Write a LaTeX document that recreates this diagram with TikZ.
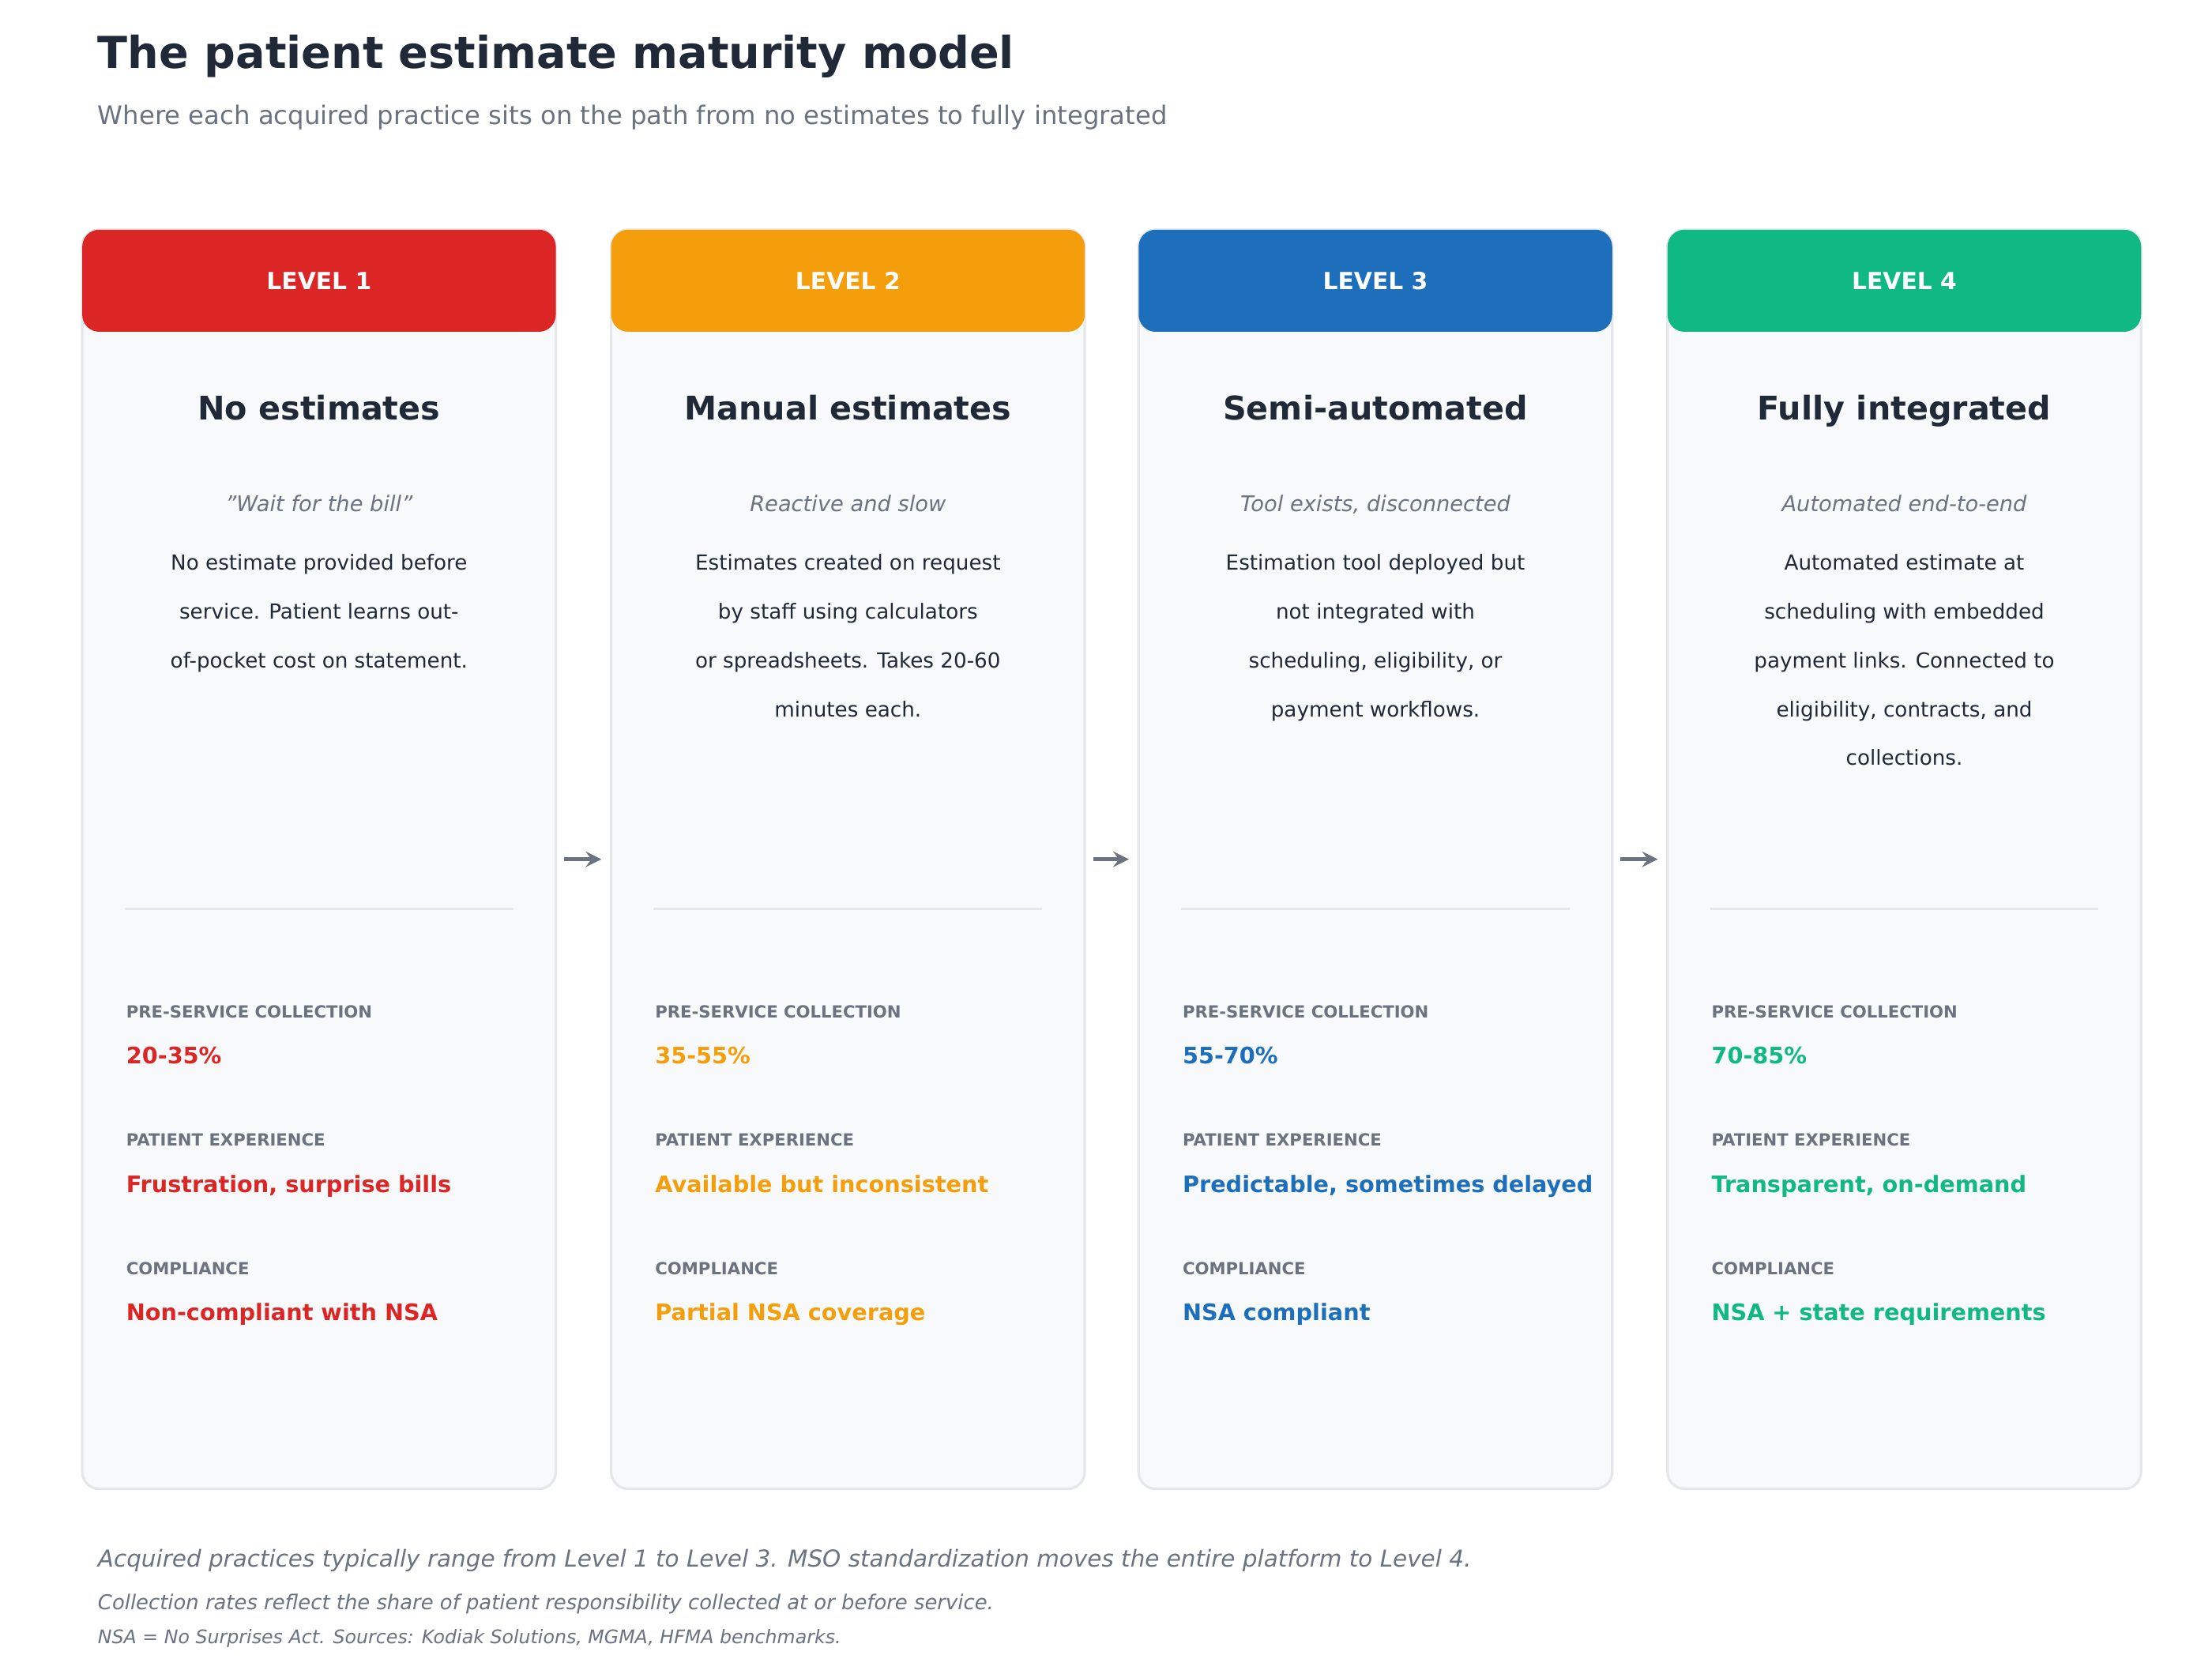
\documentclass[tikz,border=0pt]{standalone}
\usepackage{fontspec}
\setmainfont{DejaVu Sans}
\usetikzlibrary{positioning}
\definecolor{ink}{HTML}{1F2937}
\definecolor{muted}{HTML}{6B7280}
\definecolor{cardbg}{HTML}{F8F9FB}
\definecolor{cardline}{HTML}{E5E7EB}
\definecolor{lvred}{HTML}{DC2626}
\definecolor{lvorange}{HTML}{F59E0B}
\definecolor{lvblue}{HTML}{1E6FBB}
\definecolor{lvgreen}{HTML}{10B981}
\tikzset{>=stealth}
\tikzset{
  card/.style={draw=cardline, line width=0.9pt, fill=cardbg, rounded corners=6pt,
    minimum width=167pt, minimum height=444pt, inner sep=0pt},
  headbox/.style={fill=#1, rounded corners=6pt, minimum width=167pt, minimum height=36pt, inner sep=0pt,
    text=white, font=\bfseries\fontsize{8.3}{10}\selectfont},
  lvname/.style={anchor=base, text=ink, font=\bfseries\fontsize{11.5}{14}\selectfont},
  tagline/.style={anchor=base, text=muted, font=\itshape\fontsize{7.6}{9}\selectfont},
  desc/.style={anchor=north, align=center, text=ink, font=\fontsize{7.3}{17.2}\selectfont},
  metric/.style={anchor=base west, text=muted, font=\bfseries\fontsize{5.9}{7}\selectfont},
  value/.style={anchor=base west, text=#1, font=\bfseries\fontsize{8}{10}\selectfont},
  arr/.style={->, line width=1.4pt, draw=muted, shorten >=3pt, shorten <=2.5pt}
}
\begin{document}
\begin{tikzpicture}[x=0.5pt,y=-0.5pt]
\useasboundingbox[fill=white] (0,0) rectangle (1560,1170);
% title block
\node[anchor=base west, text=ink, font=\bfseries\fontsize{15.5}{18}\selectfont] (title) at (62,48) {The patient estimate maturity model};
\node[anchor=base west, text=muted, font=\fontsize{9}{11}\selectfont] (subtitle) at (62,88) {Where each acquired practice sits on the path from no estimates to fully integrated};
% cards
\foreach \i/\cx/\col/\name/\tag/\desc/\pre/\pat/\comp in {
  1/225/lvred/{No estimates}/{"Wait for the bill"}/{No estimate provided before\\service. Patient learns out-\\of-pocket cost on statement.}/{20-35\%}/{Frustration, surprise bills}/{Non-compliant with NSA},
  2/598/lvorange/{Manual estimates}/{Reactive and slow}/{Estimates created on request\\by staff using calculators\\or spreadsheets. Takes 20-60\\minutes each.}/{35-55\%}/{Available but inconsistent}/{Partial NSA coverage},
  3/970/lvblue/{Semi-automated}/{Tool exists, disconnected}/{Estimation tool deployed but\\not integrated with\\scheduling, eligibility, or\\payment workflows.}/{55-70\%}/{Predictable, sometimes delayed}/{NSA compliant},
  4/1343/lvgreen/{Fully integrated}/{Automated end-to-end}/{Automated estimate at\\scheduling with embedded\\payment links. Connected to\\eligibility, contracts, and\\collections.}/{70-85\%}/{Transparent, on-demand}/{NSA + state requirements}}{
  \node[card] (card\i) at (\cx,606) {};
  \node[headbox=\col] (head\i) at (\cx,198) {LEVEL \i};
  \node[lvname] (name\i) at (\cx,296) {\name};
  \node[tagline] (tag\i) at (\cx,361) {\tag};
  \node[desc] (desc\i) at (\cx,384) {\desc};
  \draw[cardline, line width=0.8pt] (\cx-137,641) -- (\cx+137,641);
  \node[metric] (prelbl\i) at (\cx-143,718) {PRE-SERVICE COLLECTION};
  \node[value=\col] (pre\i) at (\cx-143,750) {\pre};
  \node[metric] (patlbl\i) at (\cx-143,808) {PATIENT EXPERIENCE};
  \node[value=\col] (pat\i) at (\cx-143,841) {\pat};
  \node[metric] (complbl\i) at (\cx-143,899) {COMPLIANCE};
  \node[value=\col] (comp\i) at (\cx-143,931) {\comp};
}
% arrows between levels
\foreach \a/\b in {1/2,2/3,3/4}
  \draw[arr] (card\a.east) -- (card\b.west);
% footnotes
\node[anchor=base west, text=muted, font=\itshape\fontsize{8.2}{10}\selectfont] (note1) at (62,1105) {Acquired practices typically range from Level 1 to Level 3. MSO standardization moves the entire platform to Level 4.};
\node[anchor=base west, text=muted, font=\itshape\fontsize{7.2}{9}\selectfont] (note2) at (62,1135) {Collection rates reflect the share of patient responsibility collected at or before service.};
\node[anchor=base west, text=muted, font=\itshape\fontsize{6.6}{8}\selectfont] (note3) at (62,1159) {NSA = No Surprises Act. Sources: Kodiak Solutions, MGMA, HFMA benchmarks.};
\end{tikzpicture}
\end{document}
